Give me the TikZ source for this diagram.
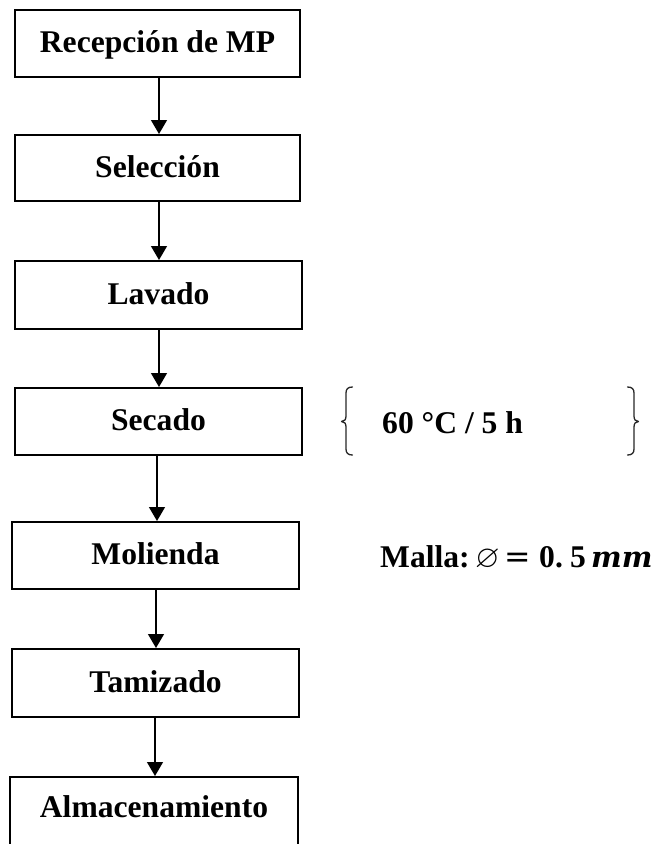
\documentclass[tikz,border=0pt]{standalone}
\usepackage{amsmath,amssymb}
\usepackage{fontspec}
\setmainfont{Liberation Serif}
\newfontfamily\symfont{DejaVu Sans}
\newfontfamily\mathitfont{DejaVu Serif}
\usetikzlibrary{arrows.meta}

\begin{document}
\begin{tikzpicture}[x=1pt,y=-1pt,
    stepbox/.style={draw, line width=2pt, inner sep=0pt, text height=18pt, text depth=0pt,
                    font=\fontsize{31.6}{36}\selectfont\bfseries},
    flow/.style={line width=1.4pt, -{Triangle[width=16pt,length=14pt]}},
    note/.style={inner sep=0pt, font=\fontsize{31.6}{36}\selectfont\bfseries},
    brace/.style={line width=1.3pt, line cap=round, line join=round, draw=black!85}]
  \useasboundingbox (0,0) rectangle (665,844);

  % process steps
  \node[stepbox, minimum width=285pt, minimum height=67pt] (rec) at (157.5,43.5) {Recepción de MP};
  \node[stepbox, minimum width=285pt, minimum height=66pt] (sel) at (157.5,168) {Selección};
  \node[stepbox, minimum width=287pt, minimum height=68pt] (lav) at (158.5,295) {Lavado};
  \node[stepbox, minimum width=287pt, minimum height=67pt] (sec) at (158.5,421.5) {Secado};
  \node[stepbox, minimum width=287pt, minimum height=67pt] (mol) at (155.5,555.5) {Molienda};
  \node[stepbox, minimum width=287pt, minimum height=68pt] (tam) at (155.5,683) {Tamizado};
  \node[stepbox, minimum width=288pt, minimum height=86pt, text height=0pt] (alm) at (154,820) {};
  \node[note, anchor=base] (almtxt) at (154,817) {Almacenamiento};

  % connectors
  \draw[flow] ([xshift=1.5pt]rec.south) -- ([xshift=1.5pt]rec.south |- sel.north);
  \draw[flow] ([xshift=1.5pt]sel.south) -- ([xshift=1.5pt]sel.south |- lav.north);
  \draw[flow] ([xshift=0.5pt]lav.south) -- ([xshift=0.5pt]lav.south |- sec.north);
  \draw[flow] ([xshift=-1.5pt]sec.south) -- ([xshift=-1.5pt]sec.south |- mol.north);
  \draw[flow] ([xshift=0.5pt]mol.south) -- ([xshift=0.5pt]mol.south |- tam.north);
  \draw[flow] ([xshift=-0.5pt]tam.south) -- ([xshift=-0.5pt]tam.south |- alm.north);

  % drying conditions
  \node[note, anchor=base west] (cond) at (382,433) {60 °C / 5 h};
  \draw[brace] (352.5,387) .. controls (348,387) and (346,389) .. (346,393) -- (346,416)
    .. controls (346,419.5) and (344.5,421.5) .. (341.5,421.5)
    .. controls (344.5,421.5) and (346,423.5) .. (346,427) -- (346,449)
    .. controls (346,453) and (348,455) .. (352.5,455);
  \draw[brace] (627.5,387) .. controls (632,387) and (634,389) .. (634,393) -- (634,416)
    .. controls (634,419.5) and (635.5,421.5) .. (638.5,421.5)
    .. controls (635.5,421.5) and (634,423.5) .. (634,427) -- (634,449)
    .. controls (634,453) and (632,455) .. (627.5,455);

  % mesh size
  \node[note, anchor=base west] (mesh) at (380,567)
    {\makebox[95pt][l]{Malla:}\makebox[29pt][l]{$\varnothing$}\makebox[35pt][l]{\symfont\mdseries =}\makebox[31pt][l]{0.}\makebox[21pt][l]{5}{\mathitfont\fontsize{29}{34}\selectfont\bfseries\itshape mm}};
\end{tikzpicture}
\end{document}
